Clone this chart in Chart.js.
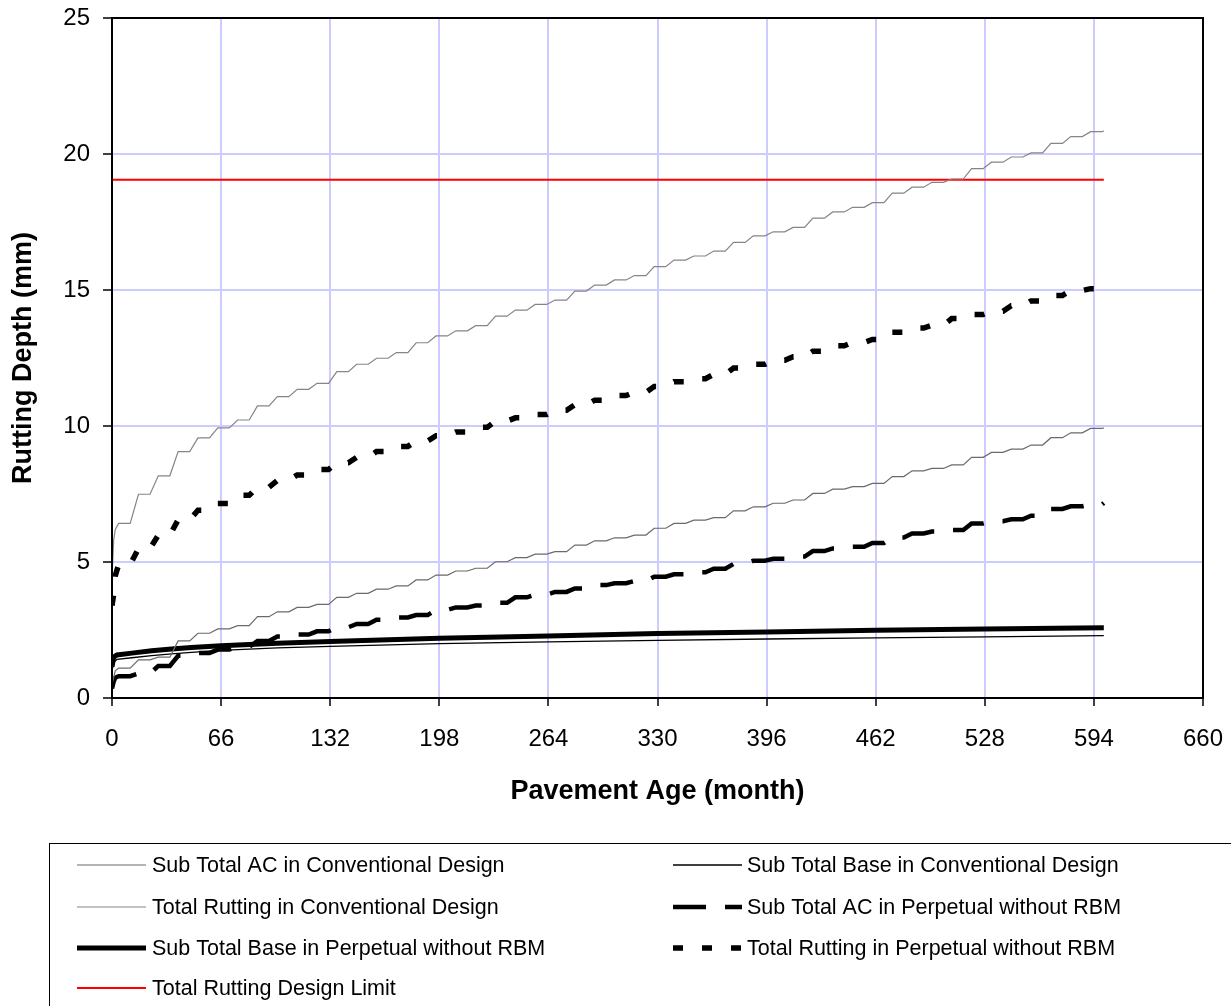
<!DOCTYPE html>
<html>
<head>
<meta charset="utf-8">
<title>Rutting Depth vs Pavement Age</title>
<script src="https://cdn.jsdelivr.net/npm/chart.js@4"></script>
<style>
  html, body { margin: 0; padding: 0; background: #fff; }
  canvas { display: block; }
</style>
</head>
<body>
<canvas id="rutChart" width="1231" height="1006"></canvas>
<script>
// months at which each yearly plateau starts (rutting grows in summer, flat the rest of the year)
const stepMonths = [4, 16, 28, 40, 52, 64, 76, 88, 100, 112,
    124, 136, 148, 160, 172, 184, 196, 208, 220, 232,
    244, 256, 268, 280, 292, 304, 316, 328, 340, 352,
    364, 376, 388, 400, 412, 424, 436, 448, 460, 472,
    484, 496, 508, 520, 532, 544, 556, 568, 580, 592];
const plateauLength = 7;
const earlyMonths = [0, 1, 2];
const endMonth = 600;

// Total Rutting in Conventional Design
const totalConvEarly = [4.4, 5.8, 6.2];
const totalConvSteps = [6.42, 7.49, 8.17, 9.06, 9.56, 9.93, 10.22, 10.74, 11.08, 11.35,
    11.57, 12.0, 12.27, 12.49, 12.70, 13.06, 13.31, 13.5, 13.69, 14.04,
    14.26, 14.47, 14.63, 14.96, 15.18, 15.37, 15.53, 15.86, 16.1, 16.25,
    16.43, 16.75, 16.99, 17.14, 17.3, 17.64, 17.87, 18.04, 18.21, 18.56,
    18.78, 18.96, 19.08, 19.46, 19.7, 19.89, 20.04, 20.39, 20.64, 20.82];
const totalConvEnd = 20.85;

// Sub Total AC in Conventional Design
const subAcConvEarly = [0.5, 0.75, 1.0];
const subAcConvSteps = [1.1, 1.4, 1.5, 2.1, 2.38, 2.54, 2.66, 2.99, 3.17, 3.33,
    3.44, 3.70, 3.85, 4.0, 4.12, 4.34, 4.52, 4.67, 4.77, 5.01,
    5.16, 5.29, 5.38, 5.62, 5.78, 5.89, 5.99, 6.24, 6.42, 6.54,
    6.63, 6.88, 7.03, 7.16, 7.28, 7.52, 7.68, 7.77, 7.89, 8.14,
    8.35, 8.44, 8.57, 8.85, 9.03, 9.15, 9.3, 9.57, 9.75, 9.91];
const subAcConvEnd = 9.93;

// Sub Total AC in Perpetual without RBM
const subAcPerpEarly = [0.35, 0.6, 0.75];
const subAcPerpSteps = [0.8, 0.9, 1.18, 1.55, 1.65, 1.78, 1.88, 2.1, 2.26, 2.33,
    2.45, 2.6, 2.72, 2.88, 2.96, 3.05, 3.24, 3.33, 3.4, 3.5,
    3.7, 3.8, 3.9, 4.03, 4.15, 4.22, 4.3, 4.46, 4.55, 4.62,
    4.75, 4.93, 5.05, 5.12, 5.2, 5.4, 5.5, 5.56, 5.7, 5.9,
    6.05, 6.12, 6.18, 6.42, 6.5, 6.57, 6.7, 6.95, 7.05, 7.12];
const subAcPerpEnd = 7.17;

// Total Rutting in Perpetual without RBM
const totalPerpEarly = [3.4, 3.8, 4.5];
const totalPerpSteps = [4.9, 5.5, 5.99, 6.55, 6.9, 7.15, 7.45, 7.75, 8.0, 8.2,
    8.4, 8.65, 8.85, 9.06, 9.25, 9.45, 9.64, 9.78, 9.95, 10.18,
    10.3, 10.42, 10.58, 10.78, 10.95, 11.12, 11.24, 11.45, 11.63, 11.74,
    11.9, 12.13, 12.27, 12.42, 12.55, 12.75, 12.95, 13.07, 13.18, 13.45,
    13.6, 13.7, 13.95, 14.1, 14.22, 14.42, 14.6, 14.8, 14.98, 15.05];
const totalPerpEnd = 15.12;

// base layers grow smoothly
const baseMonths = [0, 1, 3, 12, 24, 36, 48, 66, 100, 132, 198, 264, 330, 396, 462, 528, 600];
const subBaseConv = [1.0, 1.3, 1.42, 1.48, 1.56, 1.62, 1.68, 1.75, 1.84, 1.9, 2.0, 2.06, 2.12, 2.17, 2.21, 2.25, 2.29];
const subBasePerp = [1.15, 1.5, 1.58, 1.65, 1.74, 1.8, 1.86, 1.92, 2.01, 2.08, 2.2, 2.28, 2.37, 2.43, 2.49, 2.54, 2.58];

const limitMonths = [0, 600];
const limitValue = 19.05;

const xTicks = [0, 66, 132, 198, 264, 330, 396, 462, 528, 594, 660];
const yTicks = [0, 5, 10, 15, 20, 25];

const fontFamily = "'Liberation Sans', Arial, sans-serif";
const xTitle = 'Pavement Age (month)';
const yTitle = 'Rutting Depth (mm)';


function stepSeries(early, steps, end) {
    const pts = earlyMonths.map((m, i) => ({ x: m, y: early[i] }));
    steps.forEach((v, i) => {
        pts.push({ x: stepMonths[i], y: v });
        pts.push({ x: stepMonths[i] + plateauLength, y: v });
    });
    pts.push({ x: endMonth, y: end });
    return pts;
}

function pairs(xs, ys) {
    return xs.map((x, i) => ({ x: x, y: ys[i] }));
}

const datasets = [
    { label: 'Sub Total AC in Conventional Design', data: stepSeries(subAcConvEarly, subAcConvSteps, subAcConvEnd),
      borderColor: '#6a6a6a', borderWidth: 1.2 },
    { label: 'Sub Total Base in Conventional Design', data: pairs(baseMonths, subBaseConv),
      borderColor: '#000000', borderWidth: 1.3 },
    { label: 'Total Rutting in Conventional Design', data: stepSeries(totalConvEarly, totalConvSteps, totalConvEnd),
      borderColor: '#858585', borderWidth: 1.2 },
    { label: 'Sub Total AC in Perpetual without RBM', data: stepSeries(subAcPerpEarly, subAcPerpSteps, subAcPerpEnd),
      borderColor: '#000000', borderWidth: 4.5, borderDash: [33, 19] },
    { label: 'Sub Total Base in Perpetual without RBM', data: pairs(baseMonths, subBasePerp),
      borderColor: '#000000', borderWidth: 5 },
    { label: 'Total Rutting in Perpetual without RBM', data: stepSeries(totalPerpEarly, totalPerpSteps, totalPerpEnd),
      borderColor: '#000000', borderWidth: 5.5, borderDash: [10, 19] },
    { label: 'Total Rutting Design Limit', data: limitMonths.map(m => ({ x: m, y: limitValue })),
      borderColor: '#ff0000', borderWidth: 2 }
];
datasets.forEach(d => {
    d.pointRadius = 0;
    d.fill = false;
    d.tension = 0;
    d.borderCapStyle = 'butt';
});

// frame, axis titles and the boxed legend at the bottom
const decorations = {
    id: 'decorations',
    afterDraw(chart) {
        const ctx = chart.ctx;
        const a = chart.chartArea;
        ctx.save();
        ctx.strokeStyle = '#000';
        ctx.lineWidth = 2;
        ctx.strokeRect(a.left, a.top, a.right - a.left, a.bottom - a.top);

        ctx.fillStyle = '#000';
        ctx.font = 'bold 27px ' + fontFamily;
        ctx.textAlign = 'center';
        ctx.textBaseline = 'middle';
        ctx.fillText(xTitle, (a.left + a.right) / 2, 792);
        ctx.save();
        ctx.translate(24, (a.top + a.bottom) / 2);
        ctx.rotate(-Math.PI / 2);
        ctx.fillText(yTitle, 0, 0);
        ctx.restore();

        // legend box
        ctx.lineWidth = 1;
        ctx.strokeRect(49.5, 843.5, 1240, 220);
        const rowY = [865, 907, 948, 988];
        const cols = [{ x0: 77, x1: 146, tx: 152 }, { x0: 673, x1: 742, tx: 747 }];
        ctx.font = '21.5px ' + fontFamily;
        ctx.textAlign = 'left';
        chart.data.datasets.forEach((ds, i) => {
            const c = cols[i % 2];
            const y = rowY[Math.floor(i / 2)];
            ctx.beginPath();
            ctx.strokeStyle = ds.borderColor;
            ctx.lineWidth = ds.borderWidth;
            ctx.setLineDash(ds.borderDash || []);
            ctx.moveTo(c.x0, y);
            ctx.lineTo(c.x1, y);
            ctx.stroke();
            ctx.setLineDash([]);
            ctx.fillText(ds.label, c.tx, y + 1);
        });
        ctx.restore();
    }
};

window.onload = function() {
    const ctx = document.getElementById('rutChart').getContext('2d');
    new Chart(ctx, {
        type: 'line',
        data: { datasets: datasets },
        options: {
            responsive: false,
            animation: false,
            devicePixelRatio: 1,
            layout: { padding: { left: 0, top: 18, right: 28, bottom: 0 } },
            plugins: {
                legend: { display: false },
                tooltip: { enabled: false }
            },
            scales: {
                x: {
                    type: 'linear',
                    min: 0,
                    max: 660,
                    afterFit: s => {
                        s.height = 308;
                        s.paddingLeft = 0;
                        s.paddingRight = 0;
                    },
                    afterBuildTicks: s => { s.ticks = xTicks.map(v => ({ value: v })); },
                    grid: { color: '#ccccff', lineWidth: 2, tickColor: '#000', tickLength: 8, tickWidth: 1.5 },
                    border: { display: false },
                    ticks: { color: '#000', font: { family: fontFamily, size: 24 }, padding: 19, maxRotation: 0, autoSkip: false }
                },
                y: {
                    min: 0,
                    max: 25,
                    afterFit: s => {
                        s.width = 112;
                        s.paddingTop = 0;
                        s.paddingBottom = 0;
                    },
                    afterBuildTicks: s => { s.ticks = yTicks.map(v => ({ value: v })); },
                    grid: { color: '#ccccff', lineWidth: 2, tickColor: '#000', tickLength: 9, tickWidth: 1.5 },
                    border: { display: false },
                    ticks: { color: '#000', font: { family: fontFamily, size: 24 }, padding: 13 }
                }
            }
        },
        plugins: [decorations]
    });
};
</script>
</body>
</html>
